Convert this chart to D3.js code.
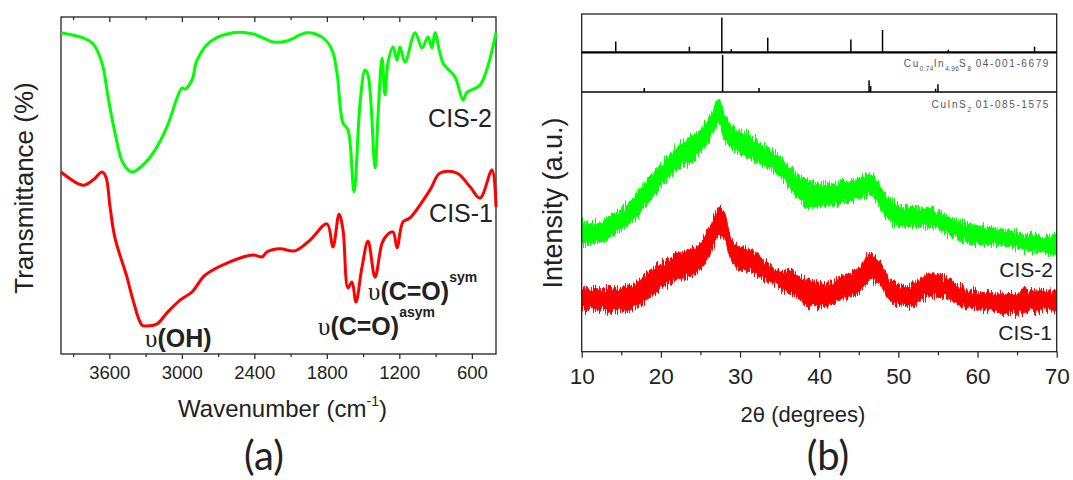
<!DOCTYPE html>
<html>
<head>
<meta charset="utf-8">
<script src="https://cdn.jsdelivr.net/npm/d3@7"></script>
<style>
  body { margin: 0; background: #fff; }
  svg { display: block; font-family: "Liberation Sans", Arial, sans-serif; }
</style>
</head>
<body>
<svg id="fig" width="1073" height="480"></svg>
<script>
// ---- (a) FTIR, wavenumber (cm-1) vs transmittance (%)
const ftirWave2 = [4000,3818,3743,3694,3652,3611,3553,3487,3412,3321,3222,3123,2999,2974,2916,2874,2767,2577,2411,2245,2130,1964,1832,1757,1716,1666,1625,1575,1525,1484,1459,1401,1377,1343,1319,1294,1252,1219,1195,1153,1070,1012,963,930,905,839,739,673,640,532,400];
const ftirT2 = [95.3,93.8,92.3,89.6,85.2,76.3,65.6,56.7,54.0,56.1,60.5,67.4,78.9,78.6,81.3,87.2,92.6,95.3,95.0,92.6,92.9,95.3,93.8,90.2,83.4,68.5,66.5,48.1,74.5,84.3,82.8,55.2,70.3,87.8,76.9,86.4,91.1,87.2,91.1,86.6,95.3,90.8,94.1,90.8,95.3,86.4,82.2,75.4,77.7,79.8,95.3];
const ftirWave1 = [4000,3818,3735,3661,3628,3594,3553,3454,3404,3330,3288,3206,3123,3015,2916,2808,2626,2411,2337,2295,2188,2063,1939,1799,1749,1699,1666,1625,1592,1559,1509,1459,1401,1343,1302,1252,1219,1170,1112,946,863,723,615,532,433,400];
const ftirT1 = [54.0,50.1,51.6,54.0,52.5,43.6,34.4,22.8,16.0,8.6,8.3,8.9,12.2,16.0,18.4,23.4,27.0,29.4,28.8,30.3,31.2,30.6,33.8,38.6,31.8,41.5,36.8,19.6,21.4,15.4,25.8,33.5,22.8,32.9,35.3,36.2,31.5,39.2,40.4,48.7,53.7,53.7,49.6,46.3,54.6,43.6];
const ftirTicks = [3600, 3000, 2400, 1800, 1200, 600];
const ftirMinor = [3900, 3300, 2700, 2100, 1500, 900];

// ---- (b) XRD, 2theta vs intensity (a.u.), noisy traces read as low/high envelope
const xrdAngle2 = [10,11.9,14,16.1,18.2,20.3,22,24.5,26.4,27.3,28.1,29.2,30.9,32.6,35.1,36.4,37.6,38.5,40.6,42.7,44.8,46.3,47.3,48.6,51.1,54.1,56.2,59.5,62.5,65.9,70];
const xrdHigh2 = [130,128,138,150,172,190,205,218,238,253,235,225,218,208,195,183,175,172,168,170,172,178,172,155,145,143,135,127,123,118,115];
const xrdLow2 = [107,108,117,128,147,168,182,195,215,228,212,202,195,188,175,162,152,145,145,148,153,157,150,132,125,125,118,108,107,102,97];
const xrdAngle1 = [10,11.9,14,16.1,18.2,20.3,22,24.5,26.2,27.5,28.1,28.8,30,31.3,33,35.5,36.4,37.6,38.5,40.6,42.7,44.8,46.5,47.6,48.9,51.1,54.1,55.8,57.9,60.9,63.8,66.8,70];
const xrdHigh1 = [65,63,63,65,78,90,98,105,125,145,138,115,105,102,92,80,82,75,72,68,75,82,98,92,72,65,78,75,65,58,58,62,60];
const xrdLow1 = [42,42,40,42,52,65,72,78,98,115,112,92,82,80,72,62,58,52,45,45,52,58,72,68,52,45,55,55,45,42,38,40,42];
const xrdTicks = [10, 20, 30, 40, 50, 60, 70];
const xrdMinor = [15, 25, 35, 45, 55, 65];

// reference patterns (relative intensity)
const refAngleA = [14.3, 23.6, 27.7, 28.9, 33.5, 44.0, 48.0, 56.3, 67.2];
const refIntA = [31, 16, 100, 9, 42, 37, 64, 7, 16];
const refAngleB = [17.9, 27.8, 32.4, 46.3, 46.5, 54.7, 55.0];
const refIntB = [11, 100, 11, 32, 16, 9, 21];

const ink = "#222";
const svg = d3.select("#fig");

function styleAxis(g, size) {
  g.select(".domain").remove();
  g.selectAll("line").attr("stroke", ink).attr("stroke-width", 1.2);
  g.selectAll("text").attr("fill", ink).style("font-size", size + "px")
    .style("font-family", '"Liberation Sans", Arial, sans-serif');
}

// =================== (a) ===================
const A = { left: 61, right: 496, top: 17, bottom: 354 };
const xa = d3.scaleLinear().domain([4000, 400]).range([A.left, A.right]);
const ya = d3.scaleLinear().domain([0, 100]).range([A.bottom, A.top]);
const ga = svg.append("g");

ga.append("g").attr("transform", `translate(0,${A.bottom})`)
  .call(d3.axisBottom(xa).tickValues(ftirMinor).tickSize(3).tickFormat(""))
  .call(g => styleAxis(g, 18));
ga.append("g").attr("transform", `translate(0,${A.bottom})`)
  .call(d3.axisBottom(xa).tickValues(ftirTicks).tickSize(5).tickPadding(7).tickFormat(d3.format("d")))
  .call(g => styleAxis(g, 18.5));
ga.append("g").attr("transform", `translate(0,${A.top})`)
  .call(d3.axisTop(xa).tickValues(ftirMinor).tickSize(-3).tickFormat(""))
  .call(g => styleAxis(g, 18));
ga.append("g").attr("transform", `translate(0,${A.top})`)
  .call(d3.axisTop(xa).tickValues(ftirTicks).tickSize(-5).tickFormat(""))
  .call(g => styleAxis(g, 18));

ga.append("rect").attr("x", A.left).attr("y", A.top)
  .attr("width", A.right - A.left).attr("height", A.bottom - A.top)
  .attr("fill", "none").attr("stroke", ink).attr("stroke-width", 1.3);

const ftirLine = d3.line().x(d => xa(d[0])).y(d => ya(d[1]))
  .curve(d3.curveCatmullRom.alpha(0.5));
[[ftirWave2, ftirT2, "#00ff00"], [ftirWave1, ftirT1, "#ff0000"]].forEach(([w, t, c]) => {
  ga.append("path").datum(w.map((v, i) => [v, t[i]]))
    .attr("d", ftirLine).attr("fill", "none").attr("stroke", c)
    .attr("stroke-width", 3).attr("stroke-linejoin", "round");
});

ga.append("text").attr("x", 492).attr("y", 127).attr("text-anchor", "end")
  .attr("fill", ink).style("font-size", "25px").text("CIS-2");
ga.append("text").attr("x", 493).attr("y", 222).attr("text-anchor", "end")
  .attr("fill", ink).style("font-size", "25px").text("CIS-1");

function vibLabel(x, y, body, sup) {
  const t = ga.append("text").attr("x", x).attr("y", y).attr("fill", ink).style("font-size", "25px");
  t.append("tspan").style("font-family", '"Liberation Serif", serif').text("υ");
  t.append("tspan").style("font-weight", "bold").text(body);
  if (sup) t.append("tspan").attr("dy", -18).style("font-size", "14px").style("font-weight", "bold").text(sup);
}
vibLabel(145, 347, "(OH)");
vibLabel(318, 335, "(C=O)", "asym");
vibLabel(368, 300, "(C=O)", "sym");

const xla = ga.append("text").attr("x", (A.left + A.right) / 2 + 4).attr("y", 417)
  .attr("text-anchor", "middle").attr("fill", ink).style("font-size", "24px");
xla.append("tspan").text("Wavenumber (cm");
xla.append("tspan").attr("dy", -11).style("font-size", "14px").text("-1");
xla.append("tspan").attr("dy", 11).text(")");

ga.append("text").attr("transform", "translate(33,188) rotate(-90)")
  .attr("text-anchor", "middle").attr("fill", ink).style("font-size", "26px")
  .text("Transmittance (%)");

ga.append("text").attr("x", 264).attr("y", 470).attr("text-anchor", "middle")
  .attr("fill", ink).style("font-family", "Lato, 'Open Sans', sans-serif").style("font-size", "40px")
  .text("(a)");

// =================== (b) ===================
const B = { left: 581.7, right: 1056.7, top: 92, bottom: 351.7 };
const RA = { top: 14, bottom: 52.3 }, RB = { top: 52.3, bottom: 92 };
const xb = d3.scaleLinear().domain([10, 70]).range([B.left, B.right]);
const yb = d3.scaleLinear().domain([0, 259.7]).range([B.bottom, B.top]);
const yRA = d3.scaleLinear().domain([0, 110]).range([RA.bottom, RA.top]);
const yRB = d3.scaleLinear().domain([0, 107]).range([RB.bottom, RB.top]);
const gb = svg.append("g");

const defs = svg.append("defs");
defs.append("clipPath").attr("id", "clipB").append("rect")
  .attr("x", B.left).attr("y", B.top).attr("width", B.right - B.left).attr("height", B.bottom - B.top);
const flt = defs.append("filter").attr("id", "jag")
  .attr("x", "-2%").attr("y", "-20%").attr("width", "104%").attr("height", "140%");
flt.append("feTurbulence").attr("type", "fractalNoise").attr("baseFrequency", "0.9 0.04")
  .attr("numOctaves", 2).attr("seed", 7).attr("result", "t");
flt.append("feColorMatrix").attr("in", "t").attr("type", "matrix")
  .attr("values", "0 0 0 0 0.5  0 1 0 0 0  0 0 0 0 0  0 0 0 0 1").attr("result", "m");
flt.append("feDisplacementMap").attr("in", "SourceGraphic").attr("in2", "m")
  .attr("scale", 16).attr("xChannelSelector", "R").attr("yChannelSelector", "G");

const band = d3.area().x(d => xb(d[0])).y0(d => yb(d[1])).y1(d => yb(d[2]))
  .curve(d3.curveMonotoneX);
const traces = gb.append("g").attr("clip-path", "url(#clipB)").append("g").attr("filter", "url(#jag)");
[[xrdAngle2, xrdLow2, xrdHigh2, "#00ff00"], [xrdAngle1, xrdLow1, xrdHigh1, "#ff0000"]].forEach(([a, lo, hi, c]) => {
  traces.append("path").datum(a.map((v, i) => [v, lo[i], hi[i]]))
    .attr("d", band).attr("fill", c).attr("stroke", c).attr("stroke-width", 1);
});

// reference sticks
gb.selectAll(".stickA").data(refAngleA.map((v, i) => [v, refIntA[i]])).join("line")
  .attr("x1", d => xb(d[0])).attr("x2", d => xb(d[0]))
  .attr("y1", RA.bottom).attr("y2", d => yRA(d[1]))
  .attr("stroke", "#000").attr("stroke-width", 1.5);
gb.selectAll(".stickB").data(refAngleB.map((v, i) => [v, refIntB[i]])).join("line")
  .attr("x1", d => xb(d[0])).attr("x2", d => xb(d[0]))
  .attr("y1", RB.bottom).attr("y2", d => yRB(d[1]))
  .attr("stroke", "#000").attr("stroke-width", 1.5);

// frames
gb.append("rect").attr("x", B.left).attr("y", RA.top)
  .attr("width", B.right - B.left).attr("height", B.bottom - RA.top)
  .attr("fill", "none").attr("stroke", ink).attr("stroke-width", 1.3);
gb.append("line").attr("x1", B.left).attr("x2", B.right).attr("y1", RA.bottom).attr("y2", RA.bottom)
  .attr("stroke", "#000").attr("stroke-width", 2.2);
gb.append("line").attr("x1", B.left).attr("x2", B.right).attr("y1", RB.bottom).attr("y2", RB.bottom)
  .attr("stroke", "#000").attr("stroke-width", 1.5);

gb.append("g").attr("transform", `translate(0,${B.bottom})`)
  .call(d3.axisBottom(xb).tickValues(xrdMinor).tickSize(3.5).tickFormat(""))
  .call(g => styleAxis(g, 22));
gb.append("g").attr("transform", `translate(0,${B.bottom})`)
  .call(d3.axisBottom(xb).tickValues(xrdTicks).tickSize(6).tickPadding(10))
  .call(g => styleAxis(g, 22.5));

// reference card labels
function cardLabel(y, parts) {
  const t = gb.append("text").attr("x", 1050).attr("y", y).attr("text-anchor", "end")
    .attr("fill", "#555").style("font-size", "10px").style("letter-spacing", "1.6px");
  let prevSub = false;
  parts.forEach(([s, sub]) => {
    const sp = t.append("tspan").text(s);
    if (sub) sp.attr("dy", 4).style("font-size", "6.5px").style("letter-spacing", "0.3px");
    else if (prevSub) sp.attr("dy", -4);
    prevSub = !!sub;
  });
}
cardLabel(67, [["Cu"], ["0.74", 1], ["In"], ["4.96", 1], ["S"], ["8", 1], [" 04-001-6679"]]);
cardLabel(108, [["CuInS"], ["2", 1], [" 01-085-1575"]]);

gb.append("text").attr("x", 1053).attr("y", 277).attr("text-anchor", "end")
  .attr("fill", ink).style("font-size", "21px").text("CIS-2");
gb.append("text").attr("x", 1052).attr("y", 340).attr("text-anchor", "end")
  .attr("fill", ink).style("font-size", "21px").text("CIS-1");

const xlb = gb.append("text").attr("x", 803).attr("y", 422).attr("text-anchor", "middle")
  .attr("fill", ink).style("font-size", "22px");
xlb.append("tspan").text("2");
xlb.append("tspan").style("font-family", '"DejaVu Sans", sans-serif').style("font-size", "20px").text("θ");
xlb.append("tspan").text(" (degrees)");

gb.append("text").attr("transform", "translate(562,203) rotate(-90)")
  .attr("text-anchor", "middle").attr("fill", ink).style("font-size", "27px")
  .text("Intensity (a.u.)");

gb.append("text").attr("x", 828).attr("y", 470).attr("text-anchor", "middle")
  .attr("fill", ink).style("font-family", "Lato, 'Open Sans', sans-serif").style("font-size", "40px")
  .text("(b)");
</script>
</body>
</html>
